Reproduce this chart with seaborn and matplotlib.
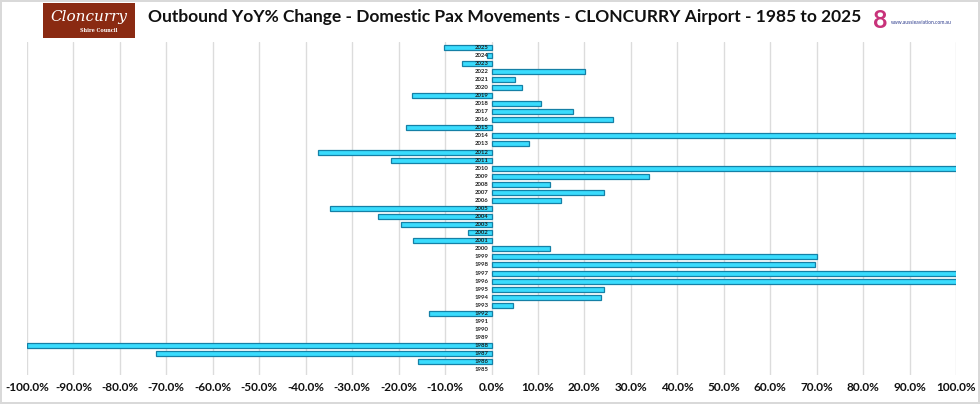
import matplotlib
matplotlib.use("Agg")
import matplotlib.pyplot as plt
import matplotlib.patches as mpatches
import seaborn as sns
import pandas as pd

# years shown top (2025) to bottom (1985)
years = [str(y) for y in range(2025, 1984, -1)]

# YoY % change (bars past 100% are clipped in the original)
yoy_pct = [
    -10.3, -1.0, -6.3, 20.1, 5.0, 6.6, -17.1, 10.6, 17.6, 26.1,   # 2025-2016
    -18.3, 150.0, 8.0, -37.4, -21.7, 180.0, 33.8, 12.6, 24.2, 14.9,  # 2015-2006
    -34.8, -24.5, -19.4, -5.0, -17.0, 12.5, 70.0, 69.7, 200.0, 130.0,  # 2005-1996
    24.2, 23.6, 4.7, -13.4, 0.0, 0.0, 0.0, -100.0, -72.3, -15.8,   # 1995-1986
    0.0,                                                           # 1985
]

x_ticks = list(range(-100, 101, 10))

df = pd.DataFrame({"Year": years, "YoY": yoy_pct})

sns.set_style("white")
plt.rcParams["font.family"] = ["Lato", "DejaVu Sans"]

fig = plt.figure(figsize=(9.8, 4.04), dpi=100)
fig.patch.set_facecolor("white")
fig.patch.set_edgecolor("#d9d9d9")
fig.patch.set_linewidth(1.5)

ax = fig.add_axes([27 / 980, 1 - 375 / 404, (956 - 27) / 980, (375 - 42) / 404])

sns.barplot(data=df, x="YoY", y="Year", orient="h", order=years,
            color="#3adcfd", edgecolor="#1580a6", linewidth=0.9,
            width=0.62, saturation=1, ax=ax)

# no outline for empty (0%) years
for bar in ax.patches:
    if bar.get_width() == 0:
        bar.set_linewidth(0)

ax.set_xlim(-100, 100)
ax.set_ylim(40.65, -0.65)
ax.set_xticks(x_ticks)
ax.set_xticklabels([f"{t:.1f}%" for t in x_ticks], fontsize=8.5, fontweight="bold",
                   color="#111111")
ax.tick_params(axis="x", length=0, pad=5)
ax.set_yticks([])

# year labels sit on the zero line, on top of the bars
for i, yr in enumerate(years):
    ax.annotate(yr, xy=(0, i), xytext=(-2, 0), textcoords="offset points",
                ha="right", va="center", fontsize=4.3, fontweight="bold",
                color="#222222", zorder=5)

for s in ["left", "right", "top", "bottom"]:
    ax.spines[s].set_visible(False)

ax.grid(axis="x", color="#dcdcdc", linewidth=1)
ax.set_axisbelow(True)
ax.set_xlabel("")
ax.set_ylabel("")

# title
fig.text(505 / 980, 1 - 17 / 404,
         "Outbound YoY% Change - Domestic Pax Movements - CLONCURRY Airport - 1985 to 2025",
         ha="center", va="center", fontsize=12.5, fontweight="bold", color="#111111")

# council logo (left)
fig.patches.append(mpatches.Rectangle((43 / 980, 1 - 38 / 404), 92 / 980, 35 / 404,
                                      transform=fig.transFigure, facecolor="#8a2a12",
                                      edgecolor="none"))
fig.text(89 / 980, 1 - 17 / 404, "Cloncurry", ha="center", va="center", fontsize=11,
         style="italic", color="white", family=["DejaVu Serif"])
fig.text(99 / 980, 1 - 31 / 404, "Shire Council", ha="center", va="center", fontsize=3.5,
         fontweight="bold", color="white", family=["DejaVu Serif"])

# aussieaviation logo (right)
fig.text(880 / 980, 1 - 20 / 404, "8", ha="center", va="center", fontsize=18,
         fontweight="bold", color="#c8327a")
fig.text(891 / 980, 1 - 22 / 404, "www.aussieaviation.com.au", ha="left", va="center",
         fontsize=3.6, color="#2b3a8c")

fig.savefig("out.png", dpi=100, facecolor=fig.get_facecolor(),
            edgecolor=fig.get_edgecolor())
